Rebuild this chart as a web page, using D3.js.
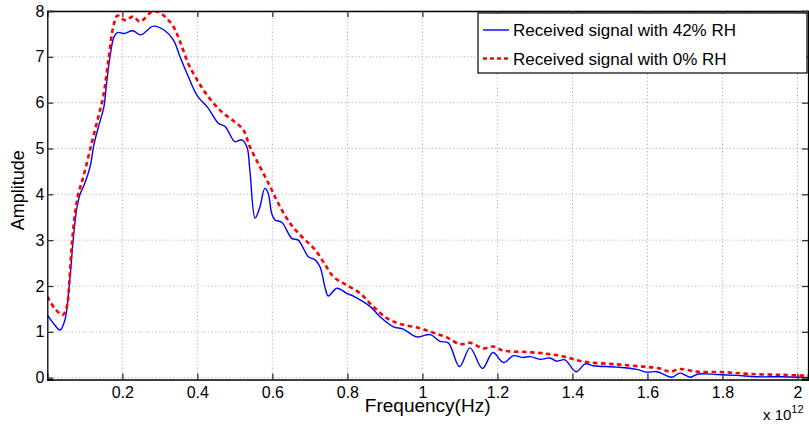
<!DOCTYPE html>
<html>
<head>
<meta charset="utf-8">
<script src="https://cdn.jsdelivr.net/npm/d3@7"></script>
<style>
    body { margin: 0; background: #fff; }
    svg { display: block; font-family: "Liberation Sans", Arial, sans-serif; }
</style>
</head>
<body>
<div id="chart"></div>
<script>
// Frequency in units of 1e12 Hz
const freq42 = [0, 0.015, 0.034, 0.047, 0.059, 0.069, 0.078, 0.087, 0.1, 0.114, 0.125, 0.14, 0.151, 0.158, 0.167, 0.178, 0.187, 0.205, 0.228, 0.249, 0.283, 0.314, 0.336, 0.354, 0.376, 0.4, 0.429, 0.456, 0.474, 0.5, 0.518, 0.532, 0.54, 0.554, 0.567, 0.58, 0.589, 0.598, 0.607, 0.625, 0.652, 0.669, 0.696, 0.714, 0.727, 0.741, 0.749, 0.772, 0.798, 0.816, 0.861, 0.887, 0.923, 0.949, 0.985, 1.021, 1.047, 1.069, 1.099, 1.127, 1.16, 1.188, 1.216, 1.243, 1.269, 1.287, 1.314, 1.34, 1.358, 1.38, 1.41, 1.434, 1.456, 1.518, 1.572, 1.598, 1.625, 1.665, 1.687, 1.714, 1.736, 1.785, 1.838, 1.892, 1.962, 2.03];
const amp42 = [1.37, 1.2, 1.04, 1.26, 2.06, 3.0, 3.66, 3.99, 4.24, 4.6, 5.11, 5.58, 5.91, 6.42, 7.0, 7.44, 7.53, 7.51, 7.57, 7.48, 7.67, 7.57, 7.37, 7.0, 6.57, 6.15, 5.88, 5.55, 5.48, 5.15, 5.19, 5.04, 4.53, 3.48, 3.73, 4.13, 4.02, 3.59, 3.44, 3.39, 3.04, 3.0, 2.64, 2.57, 2.42, 1.95, 1.78, 1.95, 1.84, 1.78, 1.55, 1.33, 1.11, 1.06, 0.89, 0.94, 0.79, 0.76, 0.24, 0.65, 0.2, 0.55, 0.33, 0.48, 0.44, 0.46, 0.4, 0.43, 0.36, 0.39, 0.13, 0.3, 0.26, 0.23, 0.18, 0.12, 0.13, 0.01, 0.1, 0.01, 0.08, 0.07, 0.05, 0.02, 0.02, 0.0];

const freq0 = [0, 0.02, 0.041, 0.052, 0.059, 0.065, 0.074, 0.083, 0.096, 0.118, 0.136, 0.149, 0.163, 0.176, 0.187, 0.207, 0.229, 0.247, 0.283, 0.309, 0.336, 0.354, 0.376, 0.403, 0.429, 0.465, 0.5, 0.523, 0.54, 0.567, 0.594, 0.616, 0.647, 0.678, 0.714, 0.741, 0.763, 0.798, 0.834, 0.869, 0.905, 0.941, 0.994, 1.029, 1.065, 1.1, 1.127, 1.163, 1.189, 1.216, 1.278, 1.332, 1.376, 1.429, 1.518, 1.589, 1.634, 1.66, 1.687, 1.732, 1.803, 1.874, 1.963, 2.03];
const amp0 = [1.77, 1.51, 1.37, 1.55, 2.13, 2.86, 3.59, 4.02, 4.38, 5.11, 5.69, 6.13, 6.93, 7.66, 7.9, 7.8, 7.88, 7.77, 8.0, 7.91, 7.66, 7.33, 6.85, 6.45, 6.13, 5.8, 5.58, 5.4, 5.04, 4.6, 4.17, 3.8, 3.37, 3.08, 2.79, 2.46, 2.2, 2.02, 1.84, 1.55, 1.3, 1.17, 1.08, 0.98, 0.88, 0.73, 0.76, 0.64, 0.68, 0.59, 0.56, 0.52, 0.46, 0.35, 0.29, 0.24, 0.2, 0.13, 0.19, 0.13, 0.12, 0.08, 0.06, 0.04];

const xTicks = [0.2, 0.4, 0.6, 0.8, 1.0, 1.2, 1.4, 1.6, 1.8, 2.0];
const yTicks = [0, 1, 2, 3, 4, 5, 6, 7, 8];
const legendLabels = ["Received signal with 42% RH", "Received signal with 0% RH"];

const drawChart = (containerId) => {
    const width = 809;
    const height = 424;
    const margin = { top: 11, right: 1, bottom: 44.5, left: 47.3 };
    const innerWidth = width - margin.left - margin.right;
    const innerHeight = height - margin.top - margin.bottom;

    const xScale = d3.scaleLinear().domain([0, 2.028]).range([0, innerWidth]);
    const yScale = d3.scaleLinear().domain([-0.04, 8]).range([innerHeight, 0]);

    const svg = d3.select(containerId)
        .append("svg")
        .attr("width", width)
        .attr("height", height);

    const inner = svg.append("g")
        .attr("transform", `translate(${margin.left},${margin.top})`);

    // dotted grid
    const grid = inner.append("g").attr("class", "grid");
    grid.selectAll(".gx").data(xTicks).join("line")
        .attr("x1", d => xScale(d)).attr("x2", d => xScale(d))
        .attr("y1", 0).attr("y2", innerHeight);
    grid.selectAll(".gy").data(yTicks).join("line")
        .attr("class", "gy")
        .attr("x1", 0).attr("x2", innerWidth)
        .attr("y1", d => yScale(d)).attr("y2", d => yScale(d));
    grid.selectAll("line")
        .attr("stroke", "#a8a8a8")
        .attr("stroke-width", 1)
        .attr("stroke-dasharray", "1,2.5");

    // curves
    inner.append("clipPath").attr("id", "clip")
        .append("rect").attr("width", innerWidth).attr("height", innerHeight);

    const line = d3.line()
        .x(d => xScale(d[0]))
        .y(d => yScale(d[1]))
        .curve(d3.curveCatmullRom.alpha(0.5));

    inner.append("path")
        .datum(d3.zip(freq42, amp42))
        .attr("clip-path", "url(#clip)")
        .attr("fill", "none")
        .attr("stroke", "#0000ff")
        .attr("stroke-width", 1.4)
        .attr("d", line);

    inner.append("path")
        .datum(d3.zip(freq0, amp0))
        .attr("clip-path", "url(#clip)")
        .attr("fill", "none")
        .attr("stroke", "#ff0000")
        .attr("stroke-width", 2.6)
        .attr("stroke-dasharray", "4.5,3.5")
        .attr("d", line);

    // axes with inward ticks on all four sides
    const bottomAxis = d3.axisBottom(xScale).tickValues(xTicks).tickSize(-6).tickPadding(7)
        .tickFormat(d3.format("~g"));
    const topAxis = d3.axisTop(xScale).tickValues(xTicks).tickSize(-6).tickFormat("");
    const leftAxis = d3.axisLeft(yScale).tickValues(yTicks).tickSize(-6).tickPadding(3);
    const rightAxis = d3.axisRight(yScale).tickValues(yTicks).tickSize(-6).tickFormat("");

    const gB = inner.append("g").attr("transform", `translate(0,${innerHeight})`).call(bottomAxis);
    const gT = inner.append("g").call(topAxis);
    const gL = inner.append("g").call(leftAxis);
    const gR = inner.append("g").attr("transform", `translate(${innerWidth},0)`).call(rightAxis);

    [gB, gT, gL, gR].forEach(g => {
        g.select(".domain").attr("stroke", "#000").attr("stroke-width", 1.3);
        g.selectAll(".tick line").attr("stroke", "#333").attr("stroke-width", 1.3);
        g.selectAll("text").attr("fill", "#000").attr("font-size", 16)
            .attr("font-family", "\"Liberation Sans\", Arial, sans-serif");
    });

    // axis labels
    inner.append("text")
        .attr("x", innerWidth / 2)
        .attr("y", innerHeight + 32.5)
        .attr("text-anchor", "middle")
        .attr("font-size", 19)
        .text("Frequency(Hz)");

    inner.append("text")
        .attr("transform", `translate(${-23},${innerHeight / 2 - 5}) rotate(-90)`)
        .attr("text-anchor", "middle")
        .attr("font-size", 18)
        .text("Amplitude");

    const expo = svg.append("text")
        .attr("x", 763)
        .attr("y", 420)
        .attr("font-size", 15);
    expo.append("tspan").text("x 10");
    expo.append("tspan").attr("dy", -7).attr("font-size", 11).text("12");

    // legend
    const legend = svg.append("g").attr("transform", "translate(478,13)");
    legend.append("rect")
        .attr("width", 329)
        .attr("height", 60)
        .attr("fill", "#fff")
        .attr("stroke", "#000")
        .attr("stroke-width", 1.2);

    const styles = [
        { color: "#0000ff", width: 1.4, dash: null },
        { color: "#ff0000", width: 2.6, dash: "4,3" }
    ];
    legendLabels.forEach((label, i) => {
        const cy = 17 + i * 28.5;
        legend.append("line")
            .attr("x1", 5).attr("x2", 31)
            .attr("y1", cy).attr("y2", cy)
            .attr("stroke", styles[i].color)
            .attr("stroke-width", styles[i].width)
            .attr("stroke-dasharray", styles[i].dash);
        legend.append("text")
            .attr("x", 35)
            .attr("y", cy + 6)
            .attr("font-size", 17)
            .text(label);
    });
};

drawChart("#chart");
</script>
</body>
</html>
